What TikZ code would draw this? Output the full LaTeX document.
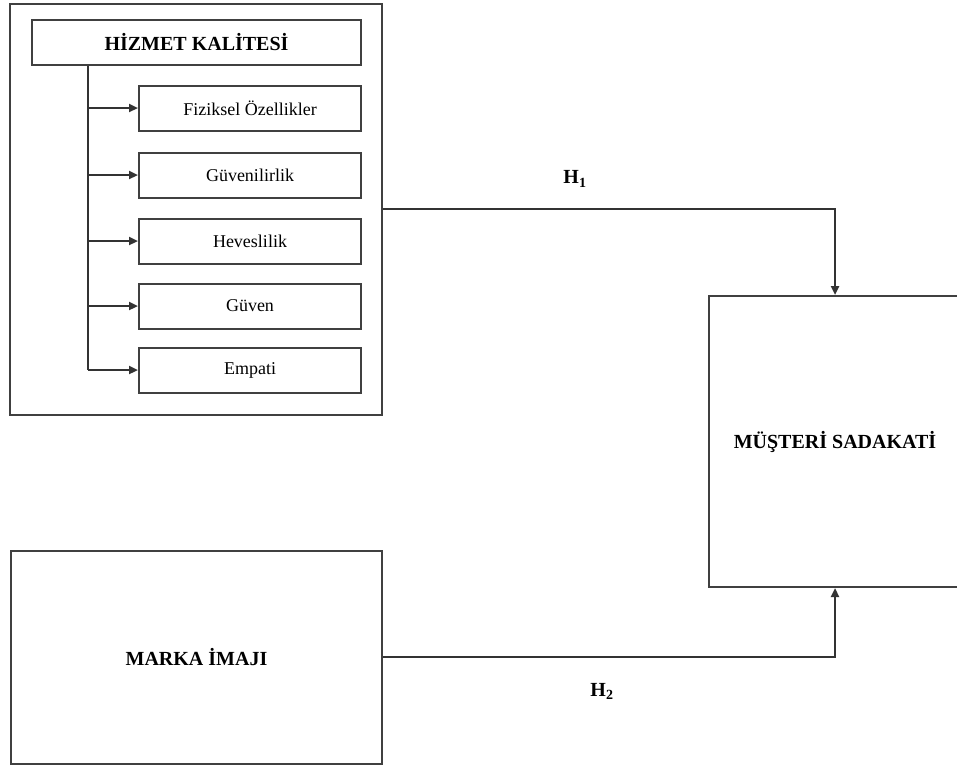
\documentclass[tikz,border=0pt]{standalone}
\usepackage{fontspec}
\setmainfont{Liberation Serif}
\usetikzlibrary{arrows.meta}
\begin{document}
\begin{tikzpicture}[x=1pt,y=-1pt,
  box/.style={draw=black!75,line width=2pt,rectangle,inner sep=0pt,align=center},
  subbox/.style={box,minimum width=222pt,minimum height=45pt,font=\fontsize{18}{21}\selectfont},
  heading/.style={font=\fontsize{20}{24}\selectfont\bfseries},
  link/.style={draw=black!80,line width=2.2pt},
  arr/.style={link,-{Triangle[length=9pt,width=8pt]}}]
\useasboundingbox (0,0) rectangle (957,769);
% service quality group
\node[box,minimum width=372pt,minimum height=411pt] (grp) at (196,209) {};
\node[box,heading,minimum width=329pt,minimum height=45pt] (hk) at (196.5,42.5) {HİZMET KALİTESİ};
\node[subbox] (s1) at (250,108) {Fiziksel Özellikler};
\node[subbox] (s2) at (250,175) {Güvenilirlik};
\node[subbox] (s3) at (250,241) {Heveslilik};
\node[subbox] (s4) at (250,306) {Güven};
\node[subbox] (s5) at (250,370) {Empati};
\coordinate (top) at (88,65);
\coordinate (bot) at (88,370);
\draw[link] (top |- hk.south) -- (bot);
\foreach \s in {s1,s2,s3,s4,s5}
  \draw[arr] (top |- \s.west) -- (\s.west);
% loyalty and brand image
\node[box,heading,minimum width=253pt,minimum height=291pt] (ms) at (835,441.5) {MÜŞTERİ SADAKATİ};
\node[box,heading,minimum width=371pt,minimum height=213pt] (mi) at (196.5,657) {MARKA İMAJI};
% hypotheses
\draw[arr] (grp.east) -| (ms.north);
\draw[arr] (mi.east) -| (ms.south);
\node[heading] (h1) at (575,179) {H\textsubscript{1}};
\node[heading] (h2) at (602,691) {H\textsubscript{2}};
\end{tikzpicture}
\end{document}
